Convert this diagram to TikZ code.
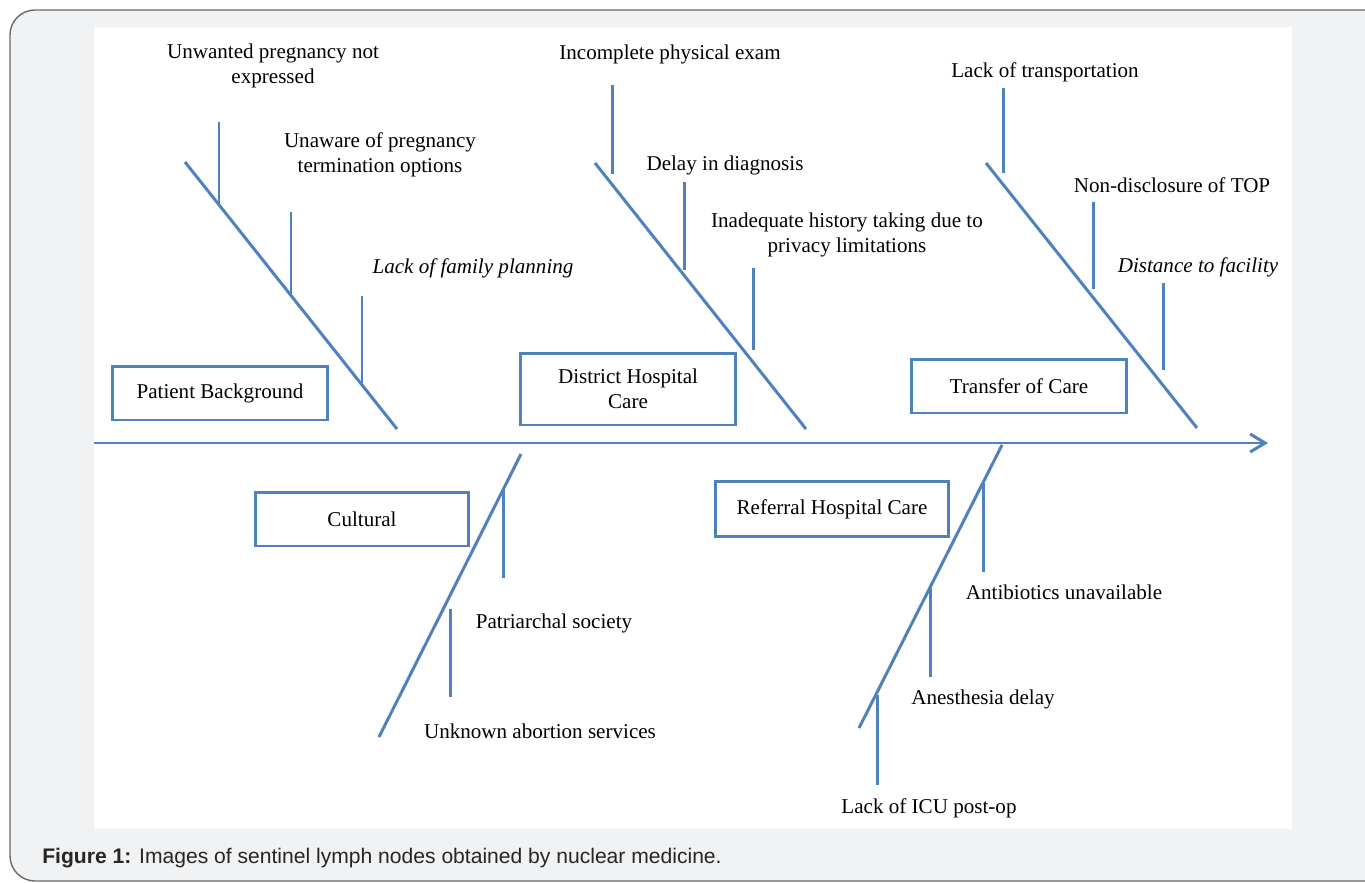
\documentclass[tikz,border=0pt]{standalone}
\usepackage{fontspec}
\setmainfont{Liberation Serif}
\newfontfamily\capfont{Liberation Sans}
\usetikzlibrary{positioning,arrows.meta}
\definecolor{boneblue}{HTML}{4F81BD}
\definecolor{framefill}{HTML}{F1F2F4}
\definecolor{framedraw}{HTML}{6A6A6A}
\tikzstyle{bone}=[draw=boneblue, line width=1.7pt]
\tikzstyle{cause}=[draw=boneblue, line width=1.7pt, align=center, minimum width=4.3cm, minimum height=1.08cm, font=\fontsize{12}{14.2}\selectfont]
\tikzstyle{lbl}=[align=center, inner sep=0pt, font=\fontsize{12}{14.2}\selectfont]

\begin{document}
\begin{tikzpicture}[x=0.02cm, y=-0.02cm]
	\useasboundingbox (0,0) rectangle (1365,882);
	\filldraw[fill=framefill, draw=framedraw, line width=0.8pt, rounded corners=0.5cm] (10,10) rectangle (1390,881);
	\fill[white] (94,27) rectangle (1292,829);

	% spine
	\coordinate (tail) at (94,443);
	\coordinate (head) at (1268,443);
	\draw [bone, -{Straight Barb[length=0.3cm, width=0.36cm]}] (tail) to (head);

	% Patient Background
	\node[cause] (patient) at (220,393) {Patient Background};
	\coordinate (pb top) at (185,162);
	\coordinate (pb end) at (397,429);
	\draw [bone] (pb top) to (pb end);
	\coordinate (pb1a) at (219,122); \coordinate (pb1b) at (219,205);
	\coordinate (pb2a) at (291,212); \coordinate (pb2b) at (291,295);
	\coordinate (pb3a) at (362,296); \coordinate (pb3b) at (362,385);
	\draw [bone] (pb1a) to (pb1b);
	\draw [bone] (pb2a) to (pb2b);
	\draw [bone] (pb3a) to (pb3b);
	\node[lbl] (unwanted) at (273,66) {Unwanted pregnancy not\\expressed};
	\node[lbl] (unaware) at (380,155) {Unaware of pregnancy\\termination options};
	\node[lbl] (famplan) at (473,268) {\itshape Lack of family planning};

	% District Hospital Care
	\node[cause, minimum height=1.44cm] (district) at (628,389) {District Hospital\\Care};
	\coordinate (dh top) at (595,163);
	\coordinate (dh end) at (806,429);
	\draw [bone] (dh top) to (dh end);
	\coordinate (dh1a) at (612,85); \coordinate (dh1b) at (612,174);
	\coordinate (dh2a) at (684,182); \coordinate (dh2b) at (684,270);
	\coordinate (dh3a) at (753,268); \coordinate (dh3b) at (753,350);
	\draw [bone] (dh1a) to (dh1b);
	\draw [bone] (dh2a) to (dh2b);
	\draw [bone] (dh3a) to (dh3b);
	\node[lbl] (physexam) at (670,54) {Incomplete physical exam};
	\node[lbl] (delaydiag) at (725,165) {Delay in diagnosis};
	\node[lbl] (history) at (847,235) {Inadequate history taking due to\\privacy limitations};

	% Transfer of Care
	\node[cause] (transfer) at (1019,386) {Transfer of Care};
	\coordinate (tc top) at (986,163);
	\coordinate (tc end) at (1197,428);
	\draw [bone] (tc top) to (tc end);
	\coordinate (tc1a) at (1003,88); \coordinate (tc1b) at (1003,173);
	\coordinate (tc2a) at (1093,202); \coordinate (tc2b) at (1093,289);
	\coordinate (tc3a) at (1163,283); \coordinate (tc3b) at (1163,370);
	\draw [bone] (tc1a) to (tc1b);
	\draw [bone] (tc2a) to (tc2b);
	\draw [bone] (tc3a) to (tc3b);
	\node[lbl] (transport) at (1045,72) {Lack of transportation};
	\node[lbl] (nondisc) at (1172,185) {Non-disclosure of TOP};
	\node[lbl] (distance) at (1198,267) {\itshape Distance to facility};

	% Cultural
	\node[cause, minimum width=4.26cm] (cultural) at (362,519) {Cultural};
	\coordinate (cu top) at (521,454);
	\coordinate (cu end) at (379,737);
	\draw [bone] (cu top) to (cu end);
	\coordinate (cu1a) at (503,490); \coordinate (cu1b) at (503,578);
	\coordinate (cu2a) at (450,609); \coordinate (cu2b) at (450,697);
	\draw [bone] (cu1a) to (cu1b);
	\draw [bone] (cu2a) to (cu2b);
	\node[lbl] (patriarch) at (554,623) {Patriarchal society};
	\node[lbl] (abortion) at (540,731) {Unknown abortion services};

	% Referral Hospital Care
	\node[cause, minimum width=4.66cm, minimum height=1.1cm] (referral) at (832,509) {Referral Hospital Care};
	\coordinate (rh top) at (1002,445);
	\coordinate (rh end) at (859,728);
	\draw [bone] (rh top) to (rh end);
	\coordinate (rh1a) at (983,483); \coordinate (rh1b) at (983,572);
	\coordinate (rh2a) at (930,588); \coordinate (rh2b) at (930,677);
	\coordinate (rh3a) at (877,695); \coordinate (rh3b) at (877,785);
	\draw [bone] (rh1a) to (rh1b);
	\draw [bone] (rh2a) to (rh2b);
	\draw [bone] (rh3a) to (rh3b);
	\node[lbl] (antibio) at (1064,592) {Antibiotics unavailable};
	\node[lbl] (anesth) at (983,699) {Anesthesia delay};
	\node[lbl] (icu) at (929,808) {Lack of ICU post-op};

	\node[anchor=west, inner sep=0pt, font=\capfont\fontsize{12}{14}\selectfont, text=black!85] (caption) at (42,858) {\textbf{Figure 1:} Images of sentinel lymph nodes obtained by nuclear medicine.};
\end{tikzpicture}
\end{document}
